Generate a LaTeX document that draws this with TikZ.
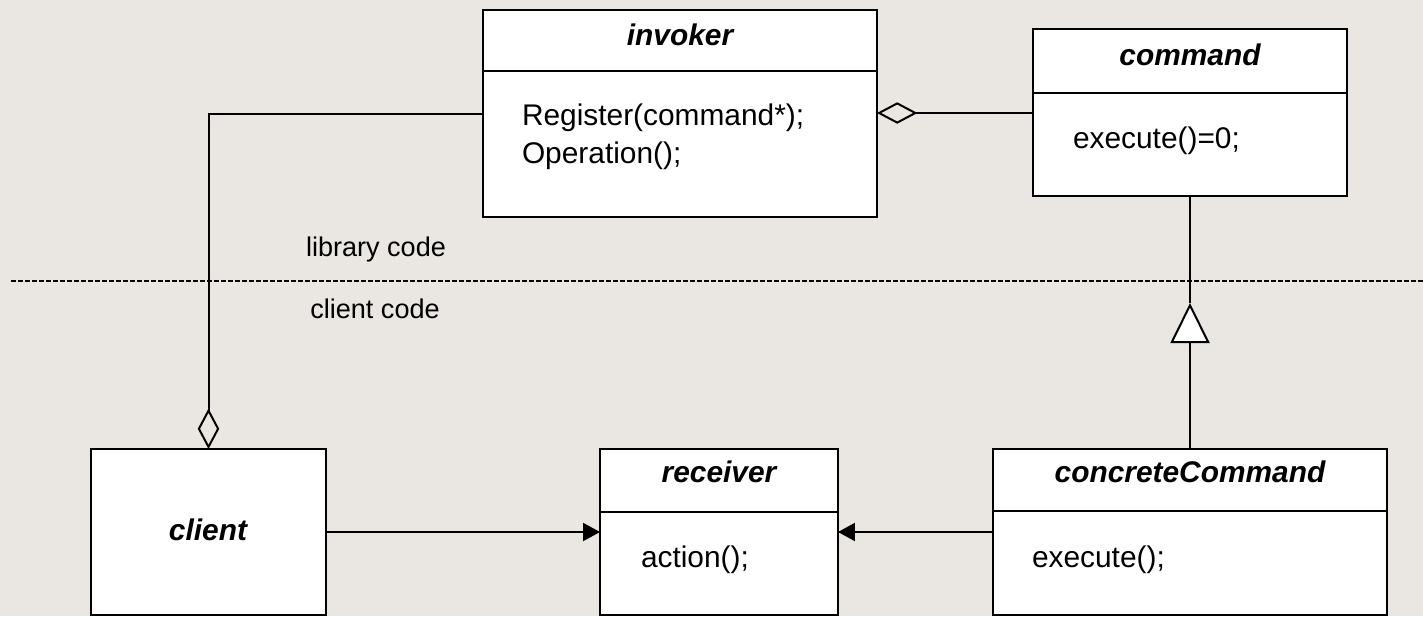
\documentclass[tikz,border=0pt]{standalone}
\usepackage{fontspec}
\setmainfont{Liberation Sans}
\usetikzlibrary{calc,arrows.meta}

\definecolor{paper}{RGB}{234,230,226}

\begin{document}
\begin{tikzpicture}[
        x=0.02cm, y=-0.02cm,
        line width=0.04cm,
        cls/.style={
            rectangle,
            draw,
            fill=white,
            inner sep=0pt,
            outer sep=0pt,
        },
        title/.style={
            anchor=base,
            inner sep=0pt,
            font=\fontsize{17}{20}\selectfont\bfseries\itshape
        },
        member/.style={
            anchor=base west,
            inner sep=0pt,
            font=\fontsize{17}{20}\selectfont
        },
        note/.style={
            anchor=base,
            inner sep=0pt,
            font=\fontsize{15.4}{18}\selectfont
        },
        agg/.style={-{Diamond[open, length=0.81cm, width=0.43cm]}},
        gen/.style={-{Triangle[open, fill=white, length=0.8cm, width=0.78cm]}},
        use/.style={-{Triangle[length=0.34cm, width=0.36cm]}},
    ]

    \fill [paper] (0,0) rectangle (1423,616);
    \useasboundingbox (0,0) rectangle (1423,616);

    \node (invoker) at (680,113.5) [cls, minimum width=7.88cm, minimum height=4.14cm] {};
    \node (command) at (1190,112.5) [cls, minimum width=6.28cm, minimum height=3.34cm] {};
    \node (client) at (208.5,532) [cls, minimum width=4.7cm, minimum height=3.32cm] {};
    \node (receiver) at (719,532) [cls, minimum width=4.76cm, minimum height=3.32cm] {};
    \node (concrete) at (1190,532) [cls, minimum width=7.88cm, minimum height=3.32cm] {};

    \draw ($(invoker.north west)+(0,61)$) -- ($(invoker.north east)+(0,61)$);
    \draw ($(command.north west)+(0,64)$) -- ($(command.north east)+(0,64)$);
    \draw ($(receiver.north west)+(0,63)$) -- ($(receiver.north east)+(0,63)$);
    \draw ($(concrete.north west)+(0,62)$) -- ($(concrete.north east)+(0,62)$);

    \node (invokerT) at (680,45) [title] {invoker};
    \node (commandT) at (1190,65) [title] {command};
    \node (clientT) at (208,540) [title] {client};
    \node (receiverT) at (719,482) [title] {receiver};
    \node (concreteT) at (1190,482) [title] {concreteCommand};

    \node (register) at (521,125) [member] {Register(command*);};
    \node (operation) at (521,163) [member] {Operation();};
    \node (executeA) at (1072,148) [member] {execute()=0;};
    \node (action) at (640,567) [member] {action();};
    \node (executeB) at (1031,567) [member] {execute();};

    \draw [dash pattern=on 0.1cm off 0.04cm, line width=0.03cm] (11,281) -- (1423,281);
    \node (lib) at (376,256) [note] {library code};
    \node (cli) at (375,318) [note] {client code};

    \coordinate (tip) at (1190,303);

    \draw [agg] (invoker.west) -| (client.north);
    \draw [agg] (command.west |- 0,113) -- (invoker.east |- 0,113);
    \draw [gen] (concrete.north) -- (tip);
    \draw [line width=0.025cm] (tip) -- (command.south);
    \draw [use] (client.east) -- (receiver.west);
    \draw [use] (concrete.west) -- (receiver.east);

    \end{tikzpicture}
\end{document}
